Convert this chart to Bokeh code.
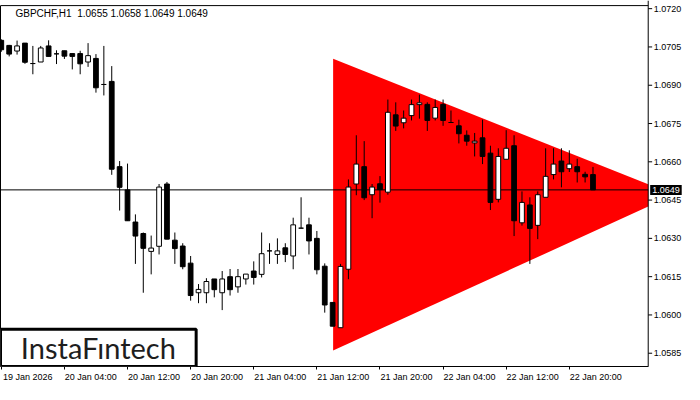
from bokeh.plotting import figure
from bokeh.models import (ColumnDataSource, FixedTicker, Label, BoxAnnotation, LinearAxis, Range1d)
from bokeh.embed import file_html
from bokeh.resources import INLINE

# ---------------- data (GBPCHF, H1) ----------------
opens = [1.07076, 1.07056, 1.07034, 1.07065, 1.06985, 1.06991, 1.07054, 1.07023, 1.07035, 1.07024,
         1.07024, 1.06991, 1.07005, 1.06903, 1.06915, 1.06581, 1.06490, 1.06364, 1.06319, 1.06249,
         1.06269, 1.06513, 1.06293, 1.06270, 1.06203, 1.06087, 1.06087, 1.06141, 1.06087, 1.06150,
         1.06110, 1.06141, 1.06172, 1.06159, 1.06251, 1.06237, 1.06263, 1.06231, 1.06340, 1.06353,
         1.06300, 1.06191, 1.06049, 1.05950, 1.06179, 1.06513, 1.06581, 1.06471, 1.06514, 1.06481,
         1.06784, 1.06753, 1.06781, 1.06824, 1.06825, 1.06771, 1.06825, 1.06754, 1.06741, 1.06704,
         1.06674, 1.06694, 1.06634, 1.06453, 1.06610, 1.06663, 1.06361, 1.06431, 1.06351, 1.06461,
         1.06550, 1.06603, 1.06573, 1.06581, 1.06551, 1.0655]
closes = [1.07039, 1.07022, 1.07054, 1.06990, 1.06985, 1.07046, 1.07013, 1.07023, 1.07014, 1.07013,
          1.06984, 1.07016, 1.06890, 1.06903, 1.06571, 1.06500, 1.06369, 1.06309, 1.06261, 1.06262,
          1.06501, 1.06297, 1.06260, 1.06189, 1.06076, 1.06100, 1.06131, 1.06099, 1.06141, 1.06099,
          1.06150, 1.06160, 1.06147, 1.06240, 1.06251, 1.06251, 1.06237, 1.06353, 1.06340, 1.06290,
          1.06177, 1.06039, 1.05956, 1.06190, 1.06501, 1.06591, 1.06459, 1.06501, 1.06491, 1.06794,
          1.06740, 1.06771, 1.06824, 1.06831, 1.06762, 1.06813, 1.06762, 1.06754, 1.06710, 1.06681,
          1.06681, 1.06621, 1.06441, 1.06621, 1.06653, 1.06369, 1.06441, 1.06339, 1.06471, 1.06543,
          1.06591, 1.06561, 1.06591, 1.06561, 1.06541, 1.0649]
highs = [1.07080, 1.07058, 1.07075, 1.07065, 1.07054, 1.07054, 1.07076, 1.07037, 1.07035, 1.07024,
         1.07035, 1.07065, 1.07022, 1.07054, 1.06975, 1.06603, 1.06593, 1.06394, 1.06323, 1.06311,
         1.06513, 1.06521, 1.06323, 1.06281, 1.06231, 1.06121, 1.06144, 1.06141, 1.06172, 1.06180,
         1.06180, 1.06160, 1.06210, 1.06323, 1.06281, 1.06300, 1.06281, 1.06381, 1.06461, 1.06381,
         1.06329, 1.06202, 1.06049, 1.06200, 1.06531, 1.06704, 1.06681, 1.06513, 1.06544, 1.06844,
         1.06833, 1.06801, 1.06844, 1.06863, 1.06833, 1.06844, 1.06844, 1.06801, 1.06765, 1.06723,
         1.06713, 1.06765, 1.06663, 1.06653, 1.06724, 1.06704, 1.06484, 1.06461, 1.06484, 1.06653,
         1.06653, 1.06653, 1.06645, 1.06612, 1.06561, 1.0658]
lows = [1.07031, 1.07013, 1.07020, 1.06984, 1.06943, 1.06991, 1.07013, 1.06983, 1.07003, 1.06962,
        1.06943, 1.06972, 1.06871, 1.06860, 1.06549, 1.06409, 1.06369, 1.06200, 1.06087, 1.06159,
        1.06237, 1.06297, 1.06200, 1.06179, 1.06056, 1.06046, 1.06046, 1.06069, 1.06019, 1.06076,
        1.06087, 1.06119, 1.06119, 1.06147, 1.06200, 1.06200, 1.06207, 1.06179, 1.06340, 1.06237,
        1.06159, 1.06009, 1.05956, 1.05950, 1.06140, 1.06469, 1.06450, 1.06379, 1.06440, 1.06471,
        1.06721, 1.06731, 1.06762, 1.06769, 1.06721, 1.06762, 1.06741, 1.06754, 1.06672, 1.06663,
        1.06621, 1.06591, 1.06411, 1.06441, 1.06610, 1.06309, 1.06350, 1.06200, 1.06297, 1.06461,
        1.06531, 1.06500, 1.06560, 1.06519, 1.06519, 1.0649]

# bearish symmetrical triangle pattern (bar index, price): upper-left, lower-left, apex
pattern_x = [42.06, 42.06, 85.3]
pattern_y = [1.07004, 1.05861, 1.06471]

current_price = 1.0649
title_text = "GBPCHF,H1\u00a0\u00a01.0655 1.0658 1.0649 1.0649"

time_ticks = [0, 8, 16, 24, 32, 40, 48, 56, 64, 72]
time_labels = ["19 Jan 2026", "20 Jan 04:00", "20 Jan 12:00", "20 Jan 20:00", "21 Jan 04:00",
               "21 Jan 12:00", "21 Jan 20:00", "22 Jan 04:00", "22 Jan 12:00", "22 Jan 20:00"]
price_ticks = [1.0585, 1.0600, 1.0615, 1.0630, 1.0645, 1.0660, 1.0675, 1.0690, 1.0705, 1.0720]

# ---------------- layout constants ----------------
X_START = -0.1       # left edge of the chart
AXIS_X = 82.0        # where the price scale begins (right edge of the chart area)
X_FULL = 86.6        # right edge of the canvas (price-scale labels live between AXIS_X and X_FULL)
Y_START = 1.05798    # bottom of the chart
FRAME_TOP = 1.07212  # top border line of the chart area
Y_END = 1.07232      # a little head-room so the top price label is not cut
LABEL_SHIFT = 3.35   # time labels start at their tick (MT4 style)
TICK_LEN = 0.5
FONT = "Liberation Sans"

p = figure(width=684, height=384, x_range=Range1d(X_START, X_FULL), y_range=Range1d(Y_START, Y_END),
           y_axis_location=None, output_backend="svg", toolbar_location=None,
           min_border_left=0, min_border_top=0, min_border_right=0, min_border_bottom=0)
p.grid.visible = False
p.background_fill_color = "white"
p.border_fill_color = "white"
p.outline_line_color = None

# time axis (bottom)
label_pos = [t + LABEL_SHIFT for t in time_ticks]
xa = p.below[0]
xa.bounds = (X_START, AXIS_X)
xa.ticker = FixedTicker(ticks=label_pos, minor_ticks=time_ticks)
xa.major_label_overrides = {t: l for t, l in zip(label_pos, time_labels)}
xa.major_label_text_font = FONT
xa.major_label_text_font_size = "9px"
xa.major_label_text_color = "black"
xa.major_label_standoff = 2
xa.major_tick_in = 0
xa.major_tick_out = 3
xa.major_tick_line_color = None
xa.minor_tick_in = 0
xa.minor_tick_out = 3
xa.minor_tick_line_color = "black"
xa.axis_line_color = "black"

# left border of the chart
left_ax = LinearAxis(ticker=FixedTicker(ticks=[]), major_label_text_font_size="0px",
                     major_tick_in=0, major_tick_out=0, minor_tick_in=0, minor_tick_out=0,
                     major_label_standoff=0, axis_line_color="black", axis_line_width=1,
                     bounds=(Y_START, FRAME_TOP))
p.add_layout(left_ax, "left")

# triangle pattern, cut at the price scale
def edge_at(x, x0, y0, x1, y1):
    return y0 + (y1 - y0) * (x - x0) / (x1 - x0)

tri_top_cut = edge_at(AXIS_X, pattern_x[0], pattern_y[0], pattern_x[2], pattern_y[2])
tri_bot_cut = edge_at(AXIS_X, pattern_x[1], pattern_y[1], pattern_x[2], pattern_y[2])
p.patch([pattern_x[0], pattern_x[1], AXIS_X, AXIS_X],
        [pattern_y[0], pattern_y[1], tri_bot_cut, tri_top_cut],
        fill_color="#ff0000", line_color=None)

# current price line
p.line([X_START, AXIS_X], [current_price, current_price], line_color="black", line_width=1)

# candles
idx = list(range(len(opens)))
tops = [max(o, c) for o, c in zip(opens, closes)]
bots = [min(o, c) for o, c in zip(opens, closes)]
fills = ["white" if c > o else "black" for o, c in zip(opens, closes)]
src = ColumnDataSource(dict(x=idx, o=opens, c=closes, h=highs, l=lows, top=tops, bot=bots, fill=fills))
p.segment(x0="x", y0="l", x1="x", y1="h", source=src, line_color="black", line_width=1)
p.vbar(x="x", top="top", bottom="bot", width=0.6, source=src, fill_color="fill",
       line_color="black", line_width=1)

# top border of the chart
p.segment(x0=[X_START], y0=[FRAME_TOP], x1=[AXIS_X], y1=[FRAME_TOP], line_color="black", line_width=1)

# price scale (right), drawn inside the canvas so the price tag can sit on it
p.segment(x0=[AXIS_X], y0=[Y_START], x1=[AXIS_X], y1=[Y_END], line_color="black", line_width=1)
p.segment(x0=[AXIS_X] * len(price_ticks), y0=price_ticks,
          x1=[AXIS_X + TICK_LEN] * len(price_ticks), y1=price_ticks,
          line_color="black", line_width=1)
p.text(x=[AXIS_X + TICK_LEN + 0.2] * len(price_ticks), y=price_ticks,
       text=[f"{t:.4f}" for t in price_ticks], text_font={"value": FONT},
       text_font_size="9px", text_color="black", text_align="left", text_baseline="middle")

# price tag for the last close
p.add_layout(Label(x=AXIS_X + 0.25, y=current_price, text=f"{current_price:.4f}", text_font=FONT,
                   text_font_size="9px", text_color="white", text_baseline="middle",
                   text_align="left", background_fill_color="black", background_fill_alpha=1.0,
                   padding=2))

# title text
p.add_layout(Label(x=1.8, y=1.07181, text=title_text, text_font=FONT, text_font_size="10px",
                   text_color="black", text_baseline="middle", text_align="left"))

# logo box
logo_right = 24.7
logo_top = 1.05944
p.add_layout(BoxAnnotation(left=X_START, right=logo_right, bottom=Y_START, top=logo_top,
                           fill_color="white", fill_alpha=1.0, line_color="black",
                           line_alpha=1.0, line_width=3))
p.add_layout(Label(x=(X_START + logo_right) / 2, y=(Y_START + logo_top) / 2, text="InstaFıntech",
                   text_font="Lato", text_font_size="29px", text_color="#1e1e1e",
                   text_align="center", text_baseline="middle"))

open("out.html", "w").write(file_html(p, INLINE))
